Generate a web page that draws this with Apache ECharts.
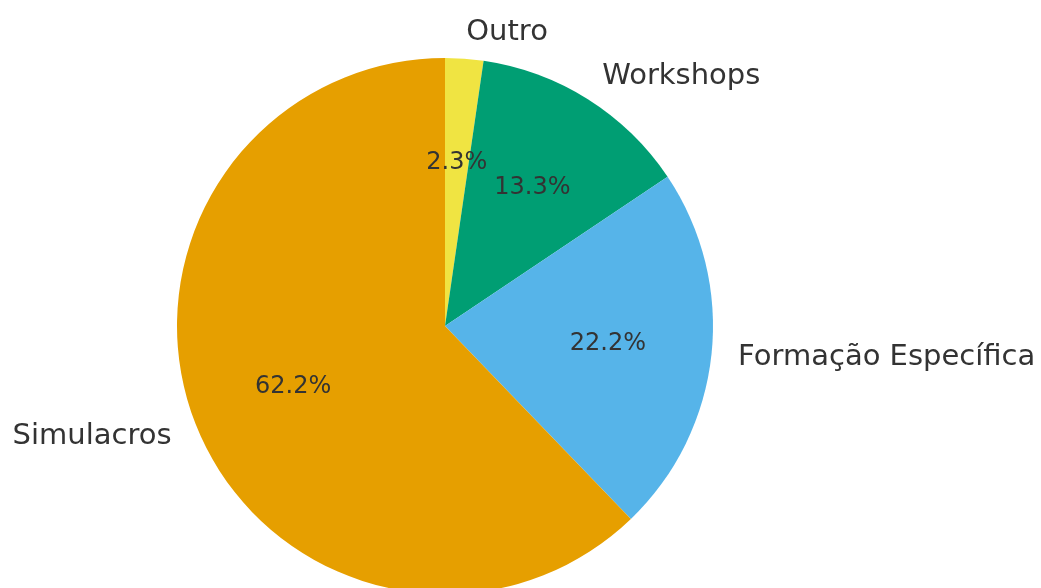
<!DOCTYPE html>
<html>
<head>
<meta charset="utf-8">
<script src="https://cdn.jsdelivr.net/npm/echarts@6/dist/echarts.min.js"></script>
<style>
  html, body { margin: 0; padding: 0; background: #fff; }
  #chart { width: 1041px; height: 588px; }
</style>
</head>
<body>
<div id="chart"></div>
<script>
// Dados da pizza (sentido horario a partir do topo)
const categories = ["Outro", "Workshops", "Formação Específica", "Simulacros"];
const percents = [2.3, 13.3, 22.2, 62.2];
const colors = ["#f0e442", "#009e73", "#56b4e9", "#e69f00"];

const R = 268;
const center = [445, 326];
const fontFamily = "DejaVu Sans";

const chart = echarts.init(document.getElementById("chart"));

const sliceData = categories.map((name, i) => ({
  name,
  value: percents[i],
  itemStyle: { color: colors[i] }
}));

chart.setOption({
  animation: false,
  series: [
    {
      // fatias + rotulos externos (a 1.1 do raio)
      type: "pie",
      center,
      radius: [0, R],
      startAngle: 90,
      clockwise: true,
      avoidLabelOverlap: false,
      silent: true,
      itemStyle: { borderWidth: 0 },
      label: {
        show: true,
        position: "outside",
        formatter: "{b}",
        fontFamily,
        fontSize: 29,
        color: "#333333",
        distanceToLabelLine: 0,
        padding: [3, 0, 0, 0]
      },
      labelLine: { show: false, length: R * 0.1, length2: 0 },
      data: sliceData
    },
    {
      // camada transparente so para as percentagens (a 0.6 do raio)
      type: "pie",
      center,
      radius: [R * 0.2, R],
      startAngle: 90,
      clockwise: true,
      avoidLabelOverlap: false,
      silent: true,
      itemStyle: { color: "rgba(0,0,0,0)", borderWidth: 0 },
      label: {
        show: true,
        position: "inside",
        formatter: (p) => p.value.toFixed(1) + "%",
        fontFamily,
        fontSize: 24,
        color: "#333333",
        padding: [3, 0, 0, 0]
      },
      labelLine: { show: false },
      data: categories.map((name, i) => ({ name, value: percents[i] }))
    }
  ]
});
</script>
</body>
</html>
